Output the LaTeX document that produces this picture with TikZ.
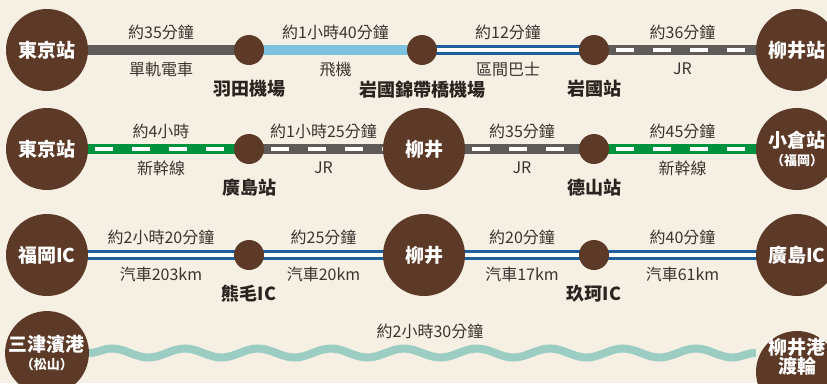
\documentclass[tikz,border=0pt]{standalone}
\usepackage{fontspec}
\setmainfont{Noto Sans CJK TC}
\usepackage{tikz}
\usetikzlibrary{positioning, backgrounds, decorations.pathmorphing}

\definecolor{paper}{HTML}{F5EFE4}
\definecolor{stopbrown}{HTML}{5C3A27}
\definecolor{railgray}{HTML}{5F5B58}
\definecolor{skyblue}{HTML}{7CC3DF}
\definecolor{roadblue}{HTML}{1D5E9F}
\definecolor{shinkgreen}{HTML}{00923F}
\definecolor{seateal}{HTML}{9BCDC3}
\definecolor{labelcol}{HTML}{3B3531}
\definecolor{namecol}{HTML}{2A2420}

\begin{document}
\begin{tikzpicture}[x=1pt, y=-1pt,
    bigstop/.style={circle, fill=stopbrown, minimum size=82pt, inner sep=0pt, text=white, align=center, font=\fontsize{19}{21}\selectfont\bfseries},
    bigtext/.style={inner sep=0pt, text=white, align=center, font=\fontsize{19}{21}\selectfont\bfseries},
    stop/.style={circle, fill=stopbrown, minimum size=30pt, inner sep=0pt},
    stname/.style={inner sep=0pt, text=namecol, font=\fontsize{18}{20}\selectfont\bfseries},
    timelabel/.style={yshift=18pt, inner sep=0pt, text=labelcol, font=\fontsize{16}{18}\selectfont},
    modelabel/.style={yshift=-19pt, inner sep=0pt, text=labelcol, font=\fontsize{16}{18}\selectfont},
    monorail/.style={draw=railgray, line width=10pt, shorten <=-3pt, shorten >=-3pt},
    flight/.style={draw=skyblue, line width=10pt, shorten <=-3pt, shorten >=-3pt},
    jrline/.style={draw=railgray, line width=10pt, shorten <=-3pt, shorten >=-3pt,
        postaction={draw=white, line width=3.3pt, dash pattern=on 18pt off 19pt, dash phase=27pt}},
    shinkansen/.style={draw=shinkgreen, line width=10pt, shorten <=-3pt, shorten >=-3pt,
        postaction={draw=white, line width=3.3pt, dash pattern=on 18pt off 19pt, dash phase=27pt}},
    road/.style={draw=roadblue, line width=2.6pt, double=white, double distance=4pt, shorten <=-3pt, shorten >=-3pt},
    ferry/.style={draw=seateal, line width=8pt, decorate, decoration={snake, segment length=73pt, amplitude=4.5pt}}]

    \useasboundingbox (0,0) rectangle (827,383);

    % Row 1: by air
    \node (tokyoA) [bigstop] at (47,50) {東京站};
    \node (haneda) [stop] at (249,50) {};
    \node (iwakuniair) [stop] at (422,50) {};
    \node (iwakuniA) [stop] at (594,50) {};
    \node (yanaiA) [bigstop] at (797,50) {柳井站};
    \node (hanedaname) [stname, below=15pt of haneda] {羽田機場};
    \node (iwakuniairname) [stname, below=15pt of iwakuniair] {岩國錦帶橋機場};
    \node (iwakuniAname) [stname, below=15pt of iwakuniA] {岩國站};

    % Row 2: by shinkansen
    \node (tokyoB) [bigstop] at (47,149) {東京站};
    \node (hiroshimaB) [stop] at (249,149) {};
    \node (yanaiB) [bigstop] at (424,149) {柳井};
    \node (tokuyama) [stop] at (594,149) {};
    \node (kokura) [bigstop] at (797,149) {小倉站\\[-3pt]{\fontsize{13}{15}\selectfont（福岡）}};
    \node (hiroshimaBname) [stname, below=15pt of hiroshimaB] {廣島站};
    \node (tokuyamaname) [stname, below=15pt of tokuyama] {德山站};

    % Row 3: by car
    \node (fukuokaic) [bigstop] at (47,255) {福岡IC};
    \node (kumage) [stop] at (249,255) {};
    \node (yanaiC) [bigstop] at (424,255) {柳井};
    \node (kuga) [stop] at (594,255) {};
    \node (hiroshimaic) [bigstop] at (797,255) {廣島IC};
    \node (kumagename) [stname, below=15pt of kumage] {熊毛IC};
    \node (kuganame) [stname, below=15pt of kuga] {玖珂IC};

    % Row 4: by ferry
    \node (mitsuhama) [bigstop] at (47,353) {三津濱港\\[-3pt]{\fontsize{13}{15}\selectfont（松山）}};
    \node (yanaiport) [bigstop] at (797,372) {};
    \node (yanaiporttext) [bigtext] at (797,357) {柳井港\\[-2pt]渡輪};
    \node (ferrytime) [timelabel, yshift=-18pt] at (430,331) {約2小時30分鐘};

    % Edges
    \begin{scope}[on background layer]
        \fill[paper] (0,0) rectangle (827,383);

        \draw[monorail] (tokyoA) -- node[midway, timelabel] {約35分鐘} node[midway, modelabel] {單軌電車} (haneda);
        \draw[flight] (haneda) -- node[midway, timelabel] {約1小時40分鐘} node[midway, modelabel] {飛機} (iwakuniair);
        \draw[road] (iwakuniair) -- node[midway, timelabel] {約12分鐘} node[midway, modelabel] {區間巴士} (iwakuniA);
        \draw[jrline] (iwakuniA) -- node[midway, timelabel] {約36分鐘} node[midway, modelabel] {JR} (yanaiA);

        \draw[shinkansen] (tokyoB) -- node[midway, timelabel] {約4小時} node[midway, modelabel] {新幹線} (hiroshimaB);
        \draw[jrline] (hiroshimaB) -- node[midway, timelabel] {約1小時25分鐘} node[midway, modelabel] {JR} (yanaiB);
        \draw[jrline] (yanaiB) -- node[midway, timelabel] {約35分鐘} node[midway, modelabel] {JR} (tokuyama);
        \draw[shinkansen] (tokuyama) -- node[midway, timelabel] {約45分鐘} node[midway, modelabel] {新幹線} (kokura);

        \draw[road] (fukuokaic) -- node[midway, timelabel] {約2小時20分鐘} node[midway, modelabel] {汽車203km} (kumage);
        \draw[road] (kumage) -- node[midway, timelabel] {約25分鐘} node[midway, modelabel] {汽車20km} (yanaiC);
        \draw[road] (yanaiC) -- node[midway, timelabel] {約20分鐘} node[midway, modelabel] {汽車17km} (kuga);
        \draw[road] (kuga) -- node[midway, timelabel] {約40分鐘} node[midway, modelabel] {汽車61km} (hiroshimaic);

        \draw[ferry] (mitsuhama.east) -- (mitsuhama.east -| yanaiport.west);
    \end{scope}
\end{tikzpicture}
\end{document}
